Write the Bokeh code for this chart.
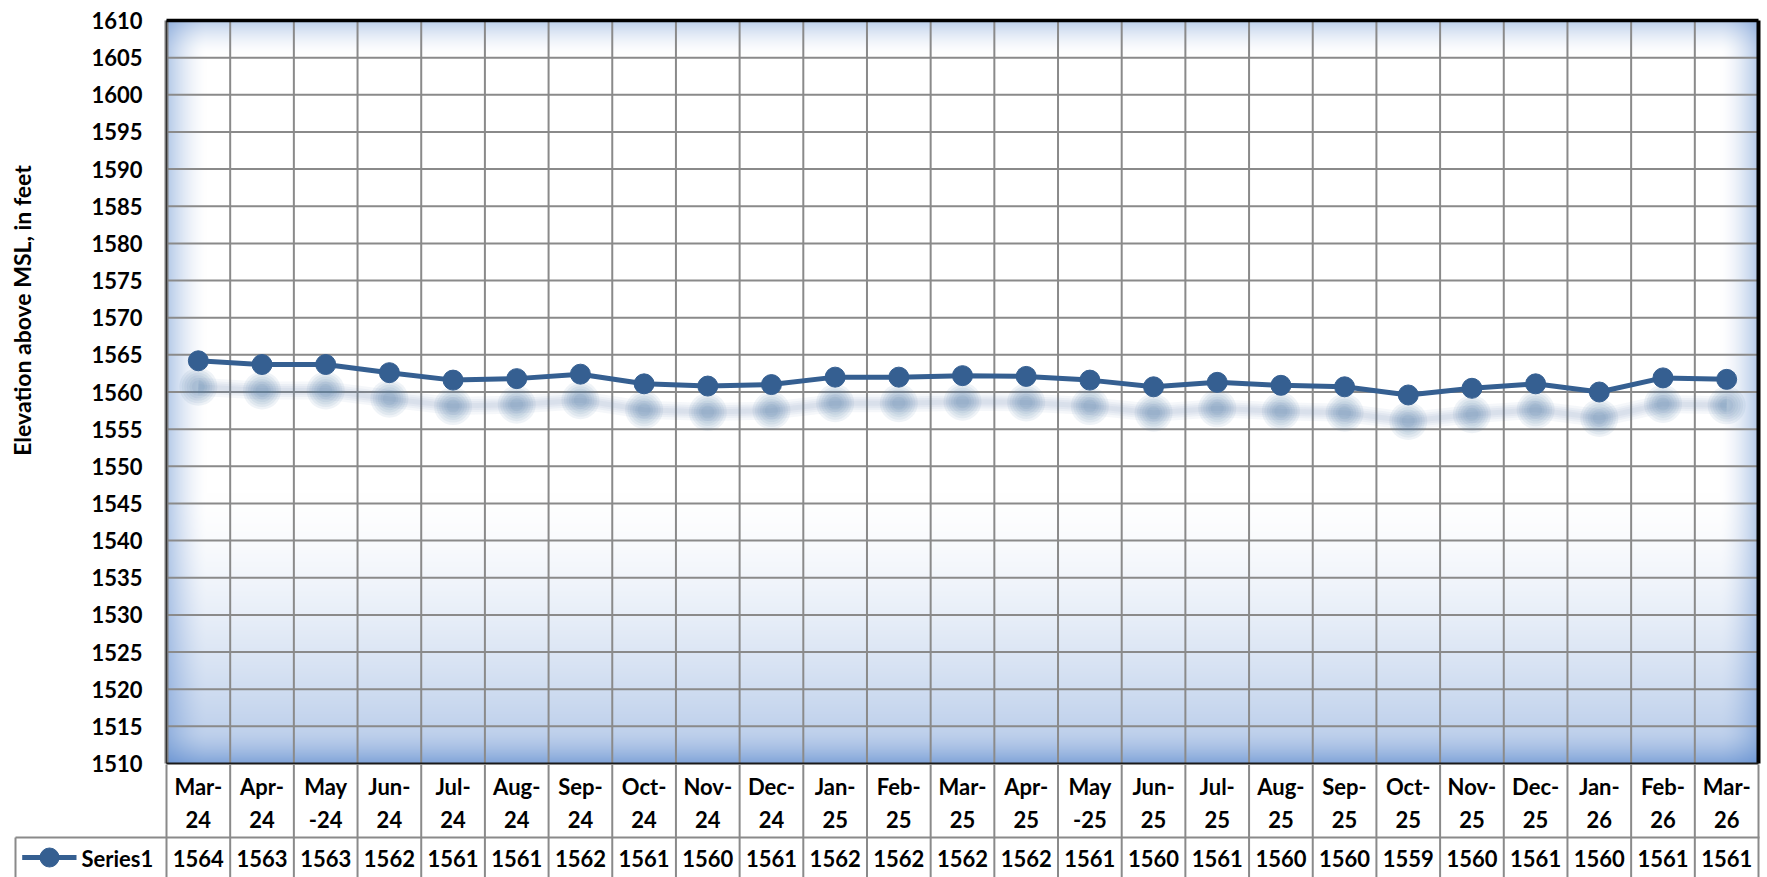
import numpy as np
from bokeh.plotting import figure
from bokeh.models import Range1d
from bokeh.embed import file_html
from bokeh.resources import INLINE
from bokeh.core.properties import value

# ---------------- data ----------------
month_line1 = ["Mar-", "Apr-", "May", "Jun-", "Jul-", "Aug-", "Sep-", "Oct-", "Nov-", "Dec-",
               "Jan-", "Feb-", "Mar-", "Apr-", "May", "Jun-", "Jul-", "Aug-", "Sep-", "Oct-",
               "Nov-", "Dec-", "Jan-", "Feb-", "Mar-"]
month_line2 = ["24", "24", "-24", "24", "24", "24", "24", "24", "24", "24",
               "25", "25", "25", "25", "-25", "25", "25", "25", "25", "25",
               "25", "25", "26", "26", "26"]
elevation = [1564.2, 1563.7, 1563.7, 1562.6, 1561.6, 1561.8, 1562.4, 1561.1, 1560.8, 1561.0,
             1562.0, 1562.0, 1562.2, 1562.1, 1561.6, 1560.7, 1561.3, 1560.9, 1560.7, 1559.6,
             1560.5, 1561.1, 1560.0, 1561.9, 1561.7]
table_values = ["1564", "1563", "1563", "1562", "1561", "1561", "1562", "1561", "1560", "1561",
                "1562", "1562", "1562", "1562", "1561", "1560", "1561", "1560", "1560", "1559",
                "1560", "1561", "1560", "1561", "1561"]
y_ticks = [1510, 1515, 1520, 1525, 1530, 1535, 1540, 1545, 1550, 1555, 1560,
           1565, 1570, 1575, 1580, 1585, 1590, 1595, 1600, 1605, 1610]
series_name = "Series1"
y_title = "Elevation above MSL, in feet"

# ---------------- layout ----------------
W, H = 1767, 877
L, R, T, B = 166, 1758, 20, 763          # plot area in page pixels
n = len(elevation)
y_lo, y_hi = y_ticks[0], y_ticks[-1]
upx = n / (R - L)
fpx = (y_hi - y_lo) / (B - T)
x0, x1 = 0.5 - L * upx, 0.5 + (W - L) * upx
y0, y1 = y_lo - (H - B) * fpx, y_hi + T * fpx

def X(px):  # page pixel -> data x
    return 0.5 + (px - L) * upx

def Y(py):  # page pixel -> data y
    return y_hi - (py - T) * fpx

xs = list(range(1, n + 1))
FONT = value("Lato")
LINE_C = "#355f91"
GRID_C = "#8a8a8a"

p = figure(width=W, height=H, x_range=Range1d(x0, x1), y_range=Range1d(y0, y1),
           output_backend="svg", toolbar_location=None, tools="",
           x_axis_location=None, y_axis_location=None, min_border=0,
           outline_line_color=None, background_fill_color="white",
           border_fill_color="white")
p.xgrid.visible = False
p.ygrid.visible = False
p.extra_y_ranges = {"shadow": Range1d(y0 + 26 * fpx, y1 + 26 * fpx)}

# ---------------- background gradient ----------------
nx, ny = R - L, B - T
gx = np.arange(nx) + 0.5
gy = np.arange(ny) + 0.5            # from bottom
DX, DY = np.meshgrid(gx, gy)
dl, dr, db, dt = DX, nx - DX, DY, ny - DY

def s(t, pw=1.6):
    return np.clip(t, 0, 1) ** pw

wl = 0.46 * s(1 - dl / 40)
wr = 0.46 * s(1 - dr / 38)
wt = 0.40 * s(1 - dt / 34)
wb = 0.46 * s(1 - db / 270, 1.5) + 0.30 * s(1 - db / 32)
w = 1 - (1 - wl) * (1 - wr) * (1 - wt) * (1 - wb)
base = np.array([88, 135, 205], dtype=float)
img = np.empty((ny, nx), dtype=np.uint32)
view = img.view(dtype=np.uint8).reshape((ny, nx, 4))
for c in range(3):
    view[..., c] = np.clip(255 * (1 - w) + base[c] * w, 0, 255).astype(np.uint8)
view[..., 3] = 255
p.image_rgba(image=[img], x=0.5, y=y_lo, dw=n, dh=y_hi - y_lo)

# ---------------- grid ----------------
inner_ticks = y_ticks[1:-1]
p.segment(x0=[0.5] * len(inner_ticks), y0=inner_ticks, x1=[n + 0.5] * len(inner_ticks),
          y1=inner_ticks, line_color=GRID_C, line_width=2)
vb = [k + 0.5 for k in range(1, n)]
p.segment(x0=vb, y0=[y_lo] * len(vb), x1=vb, y1=[y_hi] * len(vb),
          line_color=GRID_C, line_width=2)

# ---------------- blurred shadow ----------------
for lw in [18, 13, 9, 5]:
    p.line(xs, elevation, y_range_name="shadow", line_width=lw, line_color="#5077aa",
           line_alpha=0.06)
for sz in [38, 33, 28, 23, 18, 13]:
    p.scatter(xs, elevation, y_range_name="shadow", size=sz, fill_color="#5077aa",
              fill_alpha=0.09, line_color=None)

# ---------------- series ----------------
p.line(xs, elevation, line_width=5, line_color=LINE_C)
p.scatter(xs, elevation, size=20, fill_color=LINE_C, line_color=LINE_C)

# ---------------- plot borders ----------------
p.segment(x0=[0.5], y0=[y_lo], x1=[0.5], y1=[y_hi], line_color="#808080", line_width=4)
p.segment(x0=[0.5], y0=[y_lo], x1=[0.5], y1=[y_hi], line_color="#333333", line_width=1.2)
p.segment(x0=[0.5], y0=[y_hi], x1=[n + 0.5], y1=[y_hi], line_color="black", line_width=3.5)
p.segment(x0=[n + 0.5], y0=[y_lo], x1=[n + 0.5], y1=[y_hi], line_color="black", line_width=4)
p.segment(x0=[0.5], y0=[y_lo], x1=[n + 0.5], y1=[y_lo], line_color="#1a1a1a", line_width=2)

# ---------------- data table ----------------
tb = [k + 0.5 for k in range(0, n + 1)]
p.segment(x0=tb, y0=[Y(764)] * len(tb), x1=tb, y1=[y0] * len(tb),
          line_color=GRID_C, line_width=2)
p.segment(x0=[X(15)], y0=[Y(837)], x1=[X(1759)], y1=[Y(837)], line_color=GRID_C, line_width=2)
p.segment(x0=[X(15)], y0=[Y(837)], x1=[X(15)], y1=[y0], line_color=GRID_C, line_width=2)

p.text(x=xs, y=[Y(786)] * n, text=month_line1, text_font=FONT, text_font_style="bold",
       text_font_size="22px", text_align="center", text_baseline="middle", text_color="black")
p.text(x=xs, y=[Y(819)] * n, text=month_line2, text_font=FONT, text_font_style="bold",
       text_font_size="22px", text_align="center", text_baseline="middle", text_color="black")
p.text(x=xs, y=[Y(858)] * n, text=table_values, text_font=FONT, text_font_style="bold",
       text_font_size="22px", text_align="center", text_baseline="middle", text_color="black")

# legend key
p.line([X(21.7), X(76)], [Y(857), Y(857)], line_width=5, line_color=LINE_C)
p.scatter([X(49)], [Y(857)], size=19, fill_color=LINE_C, line_color=LINE_C)
p.text(x=[X(81)], y=[Y(858)], text=[series_name], text_font=FONT, text_font_style="bold",
       text_font_size="22px", text_align="left", text_baseline="middle", text_color="black")

# ---------------- y axis labels ----------------
p.text(x=[X(142)] * len(y_ticks), y=y_ticks, text=[str(t) for t in y_ticks], text_font=FONT,
       text_font_style="bold", text_font_size="22px", text_align="right",
       text_baseline="middle", text_color="black")
p.text(x=[X(21)], y=[Y(310)], text=[y_title], angle=np.pi / 2, text_font=FONT,
       text_font_style="bold", text_font_size="23px", text_align="center",
       text_baseline="middle", text_color="black")

open("out.html", "w").write(file_html(p, INLINE))
